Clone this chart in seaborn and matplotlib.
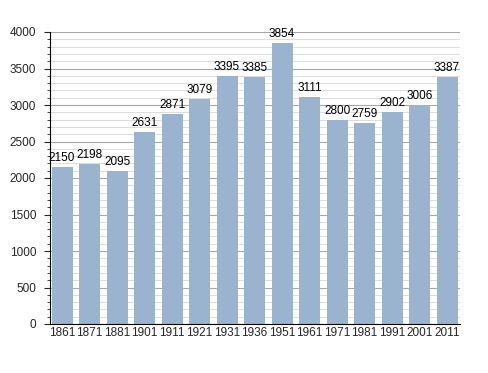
import matplotlib
matplotlib.use("Agg")
import matplotlib.pyplot as plt
import seaborn as sns
import pandas as pd
from matplotlib.ticker import MultipleLocator

years = ["1861", "1871", "1881", "1901", "1911", "1921", "1931", "1936",
         "1951", "1961", "1971", "1981", "1991", "2001", "2011"]
population = [2150, 2198, 2095, 2631, 2871, 3079, 3395, 3385,
              3854, 3111, 2800, 2759, 2902, 3006, 3387]

df = pd.DataFrame({"year": years, "pop": population})

sns.set_style("white")
plt.rcParams["font.family"] = ["Liberation Sans", "DejaVu Sans"]

fig = plt.figure(figsize=(4.88, 3.73), dpi=100)
ax = fig.add_axes([50/488, 49/373, 410/488, 292/373])

ax.set_axisbelow(True)
ax.yaxis.set_major_locator(MultipleLocator(500))
ax.yaxis.set_minor_locator(MultipleLocator(100))
ax.grid(axis="y", which="major", color="#a8a8a8", linewidth=0.8)
ax.grid(axis="y", which="minor", color="#dcdcdc", linewidth=0.7)

sns.barplot(data=df, x="year", y="pop", color="#9ab3cf", saturation=1,
            width=0.76, linewidth=0, ax=ax)

for i, v in enumerate(population):
    ax.text(i, v + 40, str(v), ha="center", va="bottom", fontsize=8.5, color="black")

ax.set_ylim(0, 4000)
ax.set_xlim(-0.44, 14.47)
ax.set_xlabel("")
ax.set_ylabel("")
for s in ["top", "right"]:
    ax.spines[s].set_visible(False)
ax.spines["left"].set_color("black")
ax.spines["bottom"].set_color("black")
ax.spines["left"].set_linewidth(0.8)
ax.spines["bottom"].set_linewidth(0.8)
ax.tick_params(axis="y", which="major", length=4, width=0.8, left=True, labelsize=8.5, pad=6)
ax.tick_params(axis="y", which="minor", length=2, width=0.6, left=True)
ax.tick_params(axis="x", length=0, labelsize=8.5, pad=2)

fig.savefig("out.png", dpi=100)
